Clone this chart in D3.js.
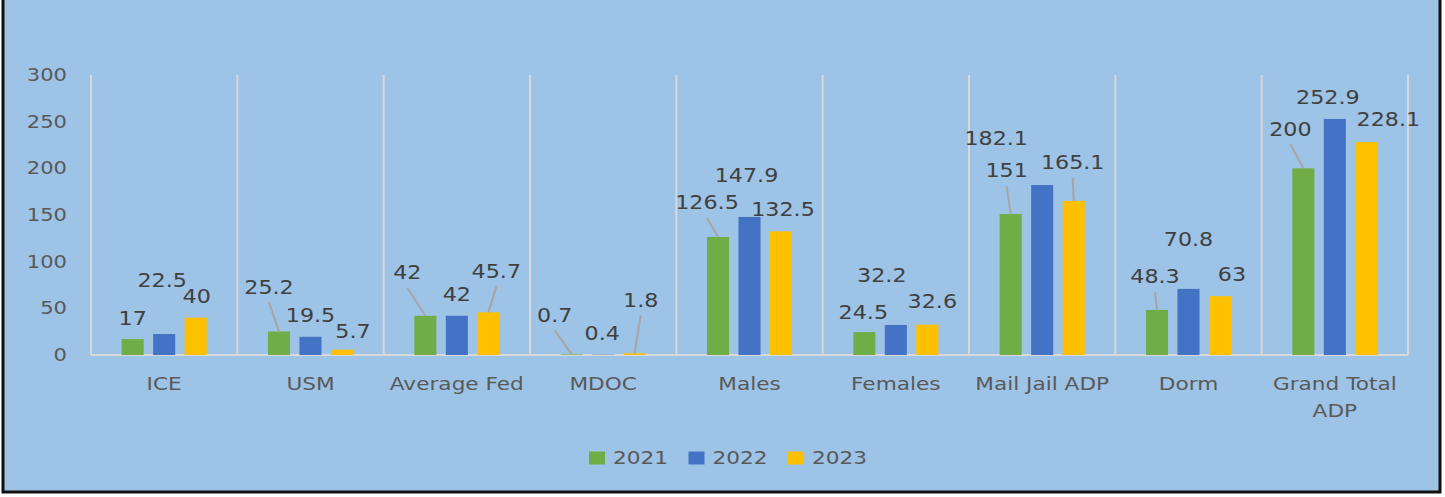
<!DOCTYPE html>
<html>
<head>
<meta charset="utf-8">
<script src="https://cdn.jsdelivr.net/npm/d3@7/dist/d3.min.js"></script>
<style>
  html, body { margin: 0; padding: 0; background: #fff; }
  svg { display: block; }
  text { font-family: "DejaVu Sans", sans-serif; }
</style>
</head>
<body>
<svg id="chart" width="1445" height="497"></svg>
<script>
var categories = ["ICE", "USM", "Average Fed", "MDOC", "Males", "Females", "Mail Jail ADP", "Dorm", "Grand Total ADP"];
var years = ["2021", "2022", "2023"];
var v2021 = [17, 25.2, 42, 0.7, 126.5, 24.5, 151, 48.3, 200];
var v2022 = [22.5, 19.5, 42, 0.4, 147.9, 32.2, 182.1, 70.8, 252.9];
var v2023 = [40, 5.7, 45.7, 1.8, 132.5, 32.6, 165.1, 63, 228.1];
var yTicks = [0, 50, 100, 150, 200, 250, 300];

var colors = { "2021": "#70ad47", "2022": "#4472c4", "2023": "#ffc000" };

// label placement (dx, dy from top centre of bar), leader = draw a connector line
var labelPos = {
  "2021": [[0,-21,0],[-10,-44,1],[-18,-43,1],[-17,-39,1],[-11,-34,1],[-1,-20,0],[-4,-43,1],[-2,-33,1],[-13,-39,1]],
  "2022": [[-2,-53,0],[0,-21,0],[0,-21,0],[-1,-21,0],[-3,-41,0],[-14,-49,0],[-46,-46,0],[0,-49,0],[-7,-21,0]],
  "2023": [[1,-21,0],[11,-18,0],[8,-41,1],[6,-53,1],[2,-22,0],[5,-23,0],[-1,-38,1],[12,-22,0],[22,-23,0]]
};

var series = years.map(function(y, i) {
  return { year: y, values: [v2021, v2022, v2023][i] };
});

var svg = d3.select("#chart"),
    margin = { left: 91, right: 37, top: 75, bottom: 142 },
    W = +svg.attr("width"), H = +svg.attr("height"),
    plotW = W - margin.left - margin.right,
    plotH = H - margin.top - margin.bottom,
    SX = 1.17,
    textCol = "#595959",
    labelCol = "#404040";

// frame
svg.append("rect")
  .attr("x", 3).attr("y", -4)
  .attr("width", 1437).attr("height", 496)
  .attr("fill", "#9dc3e6")
  .attr("stroke", "#111").attr("stroke-width", 3);

var g = svg.append("g").attr("transform", "translate(" + margin.left + "," + margin.top + ")");

var x0 = d3.scaleBand().domain(categories).range([0, plotW]).padding(0);
var B = x0.bandwidth();
var x1 = d3.scaleBand().domain(years)
  .range([B / 2 - 47.25, B / 2 + 47.25])
  .paddingInner(0.3).paddingOuter(0.15);
var y = d3.scaleLinear().domain([0, 300]).range([plotH, 0]);

function stretched(sel) {
  return sel.attr("transform", function() {
    var t = d3.select(this);
    return "translate(" + t.attr("data-x") + "," + t.attr("data-y") + ") scale(" + SX + ",1)";
  });
}

// vertical separators
var seps = d3.range(categories.length + 1).map(function(i) { return i * B; });
g.selectAll("line.sep").data(seps).enter().append("line")
  .attr("class", "sep")
  .attr("x1", function(d) { return d; }).attr("x2", function(d) { return d; })
  .attr("y1", 0).attr("y2", plotH)
  .attr("stroke", "#d9d9d9").attr("stroke-width", 2);

// baseline
g.append("line")
  .attr("x1", 0).attr("x2", plotW)
  .attr("y1", plotH).attr("y2", plotH)
  .attr("stroke", "#d9d9d9").attr("stroke-width", 2);

// y tick labels
g.selectAll("text.ytick").data(yTicks).enter().append("text")
  .attr("class", "ytick")
  .attr("data-x", -24).attr("data-y", function(d) { return y(d); })
  .attr("text-anchor", "end").attr("dominant-baseline", "central")
  .attr("font-size", 18).attr("fill", textCol)
  .text(function(d) { return d; })
  .call(stretched);

// category labels
var cat = g.selectAll("text.cat").data(categories).enter().append("text")
  .attr("class", "cat")
  .attr("data-x", function(d) { return x0(d) + B / 2; })
  .attr("data-y", plotH + 29)
  .attr("text-anchor", "middle").attr("dominant-baseline", "central")
  .attr("font-size", 18.5).attr("fill", textCol)
  .text(function(d) { return d; })
  .call(stretched);

cat.each(function(d) {
  var t = d3.select(this);
  if (this.getComputedTextLength() * SX > 160) {
    var words = d.split(" ");
    t.text(null);
    t.append("tspan").attr("x", 0).attr("dy", 0).text(words.slice(0, -1).join(" "));
    t.append("tspan").attr("x", 0).attr("dy", 27).text(words[words.length - 1]);
  }
});

// bars
var groups = g.selectAll("g.series").data(series).enter().append("g")
  .attr("class", "series");

groups.selectAll("rect").data(function(s) {
    return s.values.map(function(v, i) { return { year: s.year, cat: categories[i], v: v, i: i }; });
  })
  .enter().append("rect")
  .attr("x", function(d) { return x0(d.cat) + x1(d.year); })
  .attr("y", function(d) { return y(d.v); })
  .attr("width", x1.bandwidth())
  .attr("height", function(d) { return plotH - y(d.v); })
  .attr("fill", function(d) { return colors[d.year]; });

// data labels
var labels = [];
series.forEach(function(s) {
  s.values.forEach(function(v, i) {
    var p = labelPos[s.year][i];
    var cx = x0(categories[i]) + x1(s.year) + x1.bandwidth() / 2,
        top = y(v);
    labels.push({ v: v, cx: cx, top: top, lx: cx + p[0], ly: top + p[1], leader: p[2] });
  });
});

g.selectAll("line.leader").data(labels.filter(function(d) { return d.leader; })).enter().append("line")
  .attr("class", "leader")
  .attr("x1", function(d) { return d.lx; })
  .attr("y1", function(d) { return d.ly + 15; })
  .attr("x2", function(d) { return d.cx; })
  .attr("y2", function(d) { return d.top; })
  .attr("stroke", "#a6a6a6").attr("stroke-width", 2);

g.selectAll("text.val").data(labels).enter().append("text")
  .attr("class", "val")
  .attr("data-x", function(d) { return d.lx; })
  .attr("data-y", function(d) { return d.ly; })
  .attr("text-anchor", "middle").attr("dominant-baseline", "central")
  .attr("font-size", 19).attr("fill", labelCol)
  .text(function(d) { return d.v; })
  .call(stretched);

// legend
var legend = svg.append("g").attr("transform", "translate(589,458)");
var item = legend.selectAll("g").data(years).enter().append("g")
  .attr("transform", function(d, i) { return "translate(" + (i * 99.5) + ",0)"; });
item.append("rect")
  .attr("x", 0).attr("y", -6.5).attr("width", 16).attr("height", 13)
  .attr("fill", function(d) { return colors[d]; });
item.append("text")
  .attr("data-x", 24).attr("data-y", 0)
  .attr("dominant-baseline", "central")
  .attr("font-size", 18.5).attr("fill", textCol)
  .text(function(d) { return d; })
  .call(stretched);
</script>
</body>
</html>
